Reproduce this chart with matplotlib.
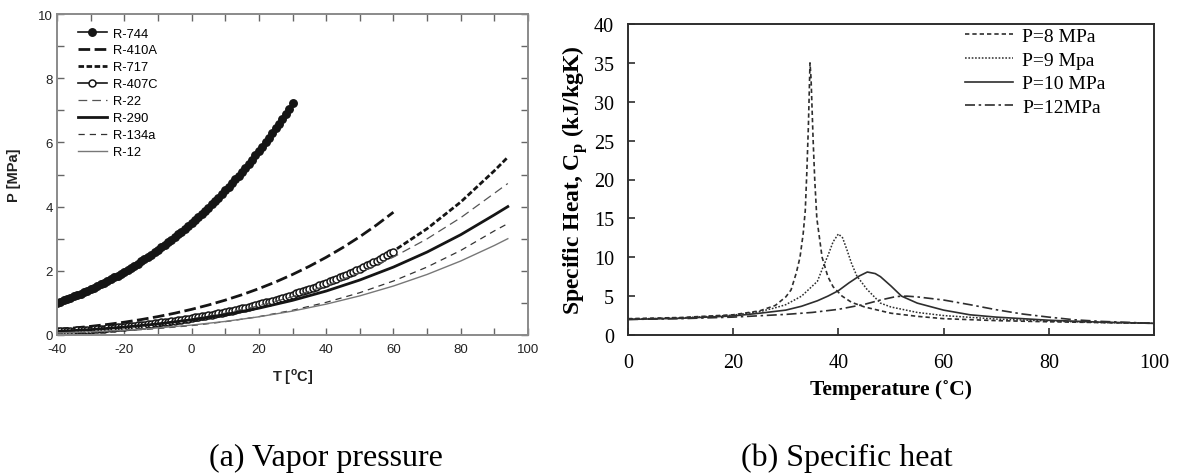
import matplotlib
matplotlib.use("Agg")
import matplotlib.pyplot as plt
from matplotlib.ticker import MultipleLocator

plt.rcParams["axes.unicode_minus"] = False

# ---- (a) vapor pressure, MPa --------------------------------------------
t_744 = list(range(-40, 31))
p_744 = [1.005, 1.043, 1.082, 1.121, 1.162, 1.203, 1.246, 1.290, 1.335, 1.381,
         1.428, 1.477, 1.526, 1.577, 1.629, 1.683, 1.737, 1.793, 1.851, 1.910,
         1.970, 2.031, 2.094, 2.158, 2.224, 2.291, 2.360, 2.430, 2.501, 2.574,
         2.649, 2.726, 2.804, 2.883, 2.964, 3.046, 3.131, 3.217, 3.305, 3.394,
         3.485, 3.578, 3.672, 3.769, 3.868, 3.969, 4.071, 4.176, 4.282, 4.391,
         4.502, 4.615, 4.730, 4.848, 4.966, 5.086, 5.211, 5.337, 5.465, 5.596,
         5.729, 5.865, 6.003, 6.144, 6.288, 6.434, 6.583, 6.735, 6.890, 7.048,
         7.214]

t_407c = list(range(-40, 61))
p_407c = [0.110, 0.115, 0.120, 0.125, 0.131, 0.137, 0.143, 0.149, 0.156, 0.163,
          0.170, 0.177, 0.185, 0.193, 0.201, 0.210, 0.219, 0.229, 0.239, 0.249,
          0.260, 0.270, 0.281, 0.291, 0.303, 0.314, 0.326, 0.339, 0.352, 0.366,
          0.380, 0.393, 0.406, 0.420, 0.434, 0.449, 0.464, 0.480, 0.496, 0.513,
          0.530, 0.546, 0.563, 0.581, 0.599, 0.617, 0.637, 0.656, 0.677, 0.698,
          0.720, 0.741, 0.763, 0.785, 0.808, 0.831, 0.856, 0.881, 0.906, 0.933,
          0.960, 0.986, 1.014, 1.042, 1.070, 1.100, 1.130, 1.161, 1.193, 1.226,
          1.260, 1.293, 1.327, 1.361, 1.397, 1.433, 1.471, 1.509, 1.548, 1.589,
          1.630, 1.669, 1.710, 1.751, 1.793, 1.837, 1.881, 1.927, 1.973, 2.021,
          2.070, 2.118, 2.167, 2.217, 2.268, 2.320, 2.374, 2.429, 2.485, 2.542,
          2.600]

t_410a = [-40, -35, -30, -25, -20, -15, -10, -5, 0, 5, 10, 15, 20, 25, 30,
          35, 40, 45, 50, 55, 60]
p_410a = [0.175, 0.218, 0.269, 0.329, 0.399, 0.480, 0.573, 0.679, 0.799, 0.934,
          1.086, 1.255, 1.444, 1.653, 1.885, 2.140, 2.420, 2.727, 3.062, 3.428,
          3.826]

t_hot = [-40, -30, -20, -10, 0, 10, 20, 30, 40, 50, 60, 70, 80, 90, 94]
p_717 = [0.072, 0.120, 0.190, 0.291, 0.429, 0.615, 0.858, 1.167, 1.555, 2.033,
         2.614, 3.312, 4.142, 5.117, 5.540]
p_22 = [0.105, 0.164, 0.245, 0.355, 0.498, 0.681, 0.910, 1.192, 1.534, 1.943,
        2.427, 2.995, 3.654, 4.415, 4.720]
p_290 = [0.111, 0.168, 0.245, 0.345, 0.474, 0.636, 0.836, 1.079, 1.369, 1.713,
         2.116, 2.584, 3.124, 3.744, 4.000]
p_134a = [0.051, 0.084, 0.133, 0.201, 0.293, 0.415, 0.572, 0.770, 1.017, 1.318,
          1.682, 2.117, 2.633, 3.244, 3.470]
p_12 = [0.064, 0.100, 0.151, 0.219, 0.309, 0.423, 0.567, 0.745, 0.961, 1.219,
        1.526, 1.886, 2.305, 2.789, 3.000]

# ---- (b) specific heat of CO2, kJ/kgK -----------------------------------
t_8 = [0, 10, 20, 25, 28, 30, 31, 32, 32.7, 33.3, 33.7, 34.0, 34.3, 34.6,
       34.8, 35.2, 35.5, 35.9, 36.9, 38, 39, 40.7, 42.5, 45, 50, 55, 60, 70,
       80, 90, 100]
cp_8 = [2.1, 2.25, 2.6, 3.1, 3.8, 4.9, 5.8, 8.0, 10.0, 13.0, 16.0, 21.0, 27.0,
        35.0, 33.0, 25.0, 20.0, 15.0, 10.0, 7.5, 6.2, 5.0, 4.2, 3.6, 2.8, 2.4,
        2.1, 1.85, 1.7, 1.6, 1.5]

t_9 = [0, 10, 20, 25, 28, 30, 33, 36, 37, 38, 39, 40, 40.8, 41.6, 42.5, 43.5,
       45.4, 48, 50, 55, 60, 70, 80, 90, 100]
cp_9 = [2.05, 2.2, 2.55, 3.0, 3.5, 3.9, 5.0, 6.9, 8.6, 10.2, 12.0, 13.0, 12.5,
        11.0, 9.2, 7.6, 5.9, 4.1, 3.6, 2.9, 2.5, 2.05, 1.8, 1.6, 1.5]

t_10 = [0, 10, 20, 25, 30, 33, 36, 38, 40, 42, 44, 45.5, 47, 48, 50, 52, 55,
        60, 65, 70, 80, 90, 100]
cp_10 = [2.0, 2.15, 2.45, 2.8, 3.2, 3.7, 4.4, 5.0, 5.7, 6.7, 7.6, 8.1, 7.9,
         7.5, 6.3, 5.0, 4.1, 3.2, 2.6, 2.3, 1.9, 1.65, 1.5]

t_12 = [0, 10, 20, 30, 35, 40, 45, 48, 51, 53, 55, 60, 65, 70, 75, 80, 85, 90,
        100]
cp_12 = [2.0, 2.1, 2.3, 2.65, 2.9, 3.3, 3.95, 4.5, 4.95, 5.0, 4.9, 4.5, 3.9,
         3.25, 2.7, 2.3, 1.95, 1.75, 1.5]

W, H = 1177, 477
fig = plt.figure(figsize=(W / 100, H / 100), dpi=100)

SANS = "Liberation Sans"
SERIF = "Liberation Serif"

# ── (a) ──────────────────────────────────────────────────────────────────────
ax1 = fig.add_axes([57 / W, 1 - 336 / H, (528 - 57) / W, (336 - 15) / H])
K = "#151515"
ax1.plot(t_744, p_744, "-", color=K, lw=1.2, marker="o", ms=5.4,
         mfc=K, mec=K, label="R-744")
ax1.plot(t_410a, p_410a, color=K, lw=2.0, dashes=(4.2, 1.6), label="R-410A")
ax1.plot(t_hot, p_717, color=K, lw=2.0, dashes=(2.0, 0.9), label="R-717")
ax1.plot(t_407c, p_407c, "-", color=K, lw=1.2, marker="o", ms=5.0,
         mfc="white", mec=K, mew=1.1, label="R-407C")
ax1.plot(t_hot, p_22, color="#555555", lw=0.9, dashes=(7, 4), label="R-22")
ax1.plot(t_hot, p_290, "-", color=K, lw=2.0, label="R-290")
ax1.plot(t_hot, p_134a, color="#333333", lw=0.9, dashes=(5, 4), label="R-134a")
ax1.plot(t_hot, p_12, "-", color="#777777", lw=1.0, label="R-12")

ax1.set_xlim(-40, 100)
ax1.set_ylim(0, 10)
ax1.xaxis.set_major_locator(MultipleLocator(20))
ax1.xaxis.set_minor_locator(MultipleLocator(10))
ax1.yaxis.set_major_locator(MultipleLocator(2))
ax1.yaxis.set_minor_locator(MultipleLocator(1))
ax1.tick_params(which="both", direction="in", top=True, right=True,
                color="#666666", width=1.0, length=5)
ax1.tick_params(axis="x", pad=6, labelsize=9.5, labelcolor="#222222")
ax1.tick_params(axis="y", pad=3, labelsize=9.5, labelcolor="#222222")
for lab in ax1.get_xticklabels() + ax1.get_yticklabels():
    lab.set_family(SANS)
for s in ax1.spines.values():
    s.set_color("#8a8a8a")
    s.set_linewidth(1.4)
ax1.set_ylabel("P [MPa]", family=SANS, fontsize=10.5, fontweight="bold",
               color="#222222", labelpad=12)
ax1.set_xlabel(r"T [$^{\mathregular{o}}$C]", family=SANS, fontsize=10.5,
               fontweight="bold", color="#222222", labelpad=8)
ax1.legend(loc="upper left", bbox_to_anchor=(0.045, 0.958), frameon=False,
           borderpad=0, borderaxespad=0, numpoints=1, handlelength=2.2,
           handletextpad=0.5, labelspacing=0.38,
           prop={"family": SANS, "size": 9.3})

# ── (b) ──────────────────────────────────────────────────────────────────────
ax2 = fig.add_axes([628 / W, 1 - 336 / H, (1154 - 628) / W, (336 - 25) / H])
G = "#2e2e2e"
ax2.plot(t_8, cp_8, color=G, lw=1.2, dashes=(2.6, 1.8), label="P=8 MPa")
ax2.plot(t_9, cp_9, color=G, lw=1.1, dashes=(1.1, 1.1), label="P=9 Mpa")
ax2.plot(t_10, cp_10, "-", color=G, lw=1.2, label="P=10 MPa")
ax2.plot(t_12, cp_12, color=G, lw=1.2, dashes=(6, 2.2, 1.5, 2.2),
         label="P=12MPa")

ax2.set_xlim(0, 100)
ax2.set_ylim(0, 40)
ax2.xaxis.set_major_locator(MultipleLocator(20))
ax2.yaxis.set_major_locator(MultipleLocator(5))
ax2.tick_params(direction="in", length=5, width=1.2, color=G, labelsize=14.5)
ax2.tick_params(axis="x", pad=13)
ax2.tick_params(axis="y", pad=10)
for lab in ax2.get_xticklabels() + ax2.get_yticklabels():
    lab.set_family(SERIF)
for s in ax2.spines.values():
    s.set_color(G)
    s.set_linewidth(1.4)
ax2.set_ylabel(r"Specific Heat, C$_{\mathregular{p}}$ (kJ/kgK)", family=SERIF,
               fontsize=17, fontweight="bold", labelpad=3)
ax2.set_xlabel("Temperature (\u02daC)", family=SERIF, fontsize=15.5,
               fontweight="bold", labelpad=5)
ax2.legend(loc="upper left", bbox_to_anchor=(0.64, 0.99), frameon=False,
           borderpad=0, borderaxespad=0, handlelength=2.5, handletextpad=0.45,
           labelspacing=0.32, prop={"family": SERIF, "size": 14})

# captions
fig.text(326 / W, 1 - 458 / H, "(a) Vapor pressure", family=SERIF,
         fontsize=23, ha="center", va="center")
fig.text(847 / W, 1 - 458 / H, "(b) Specific heat", family=SERIF,
         fontsize=23, ha="center", va="center")

fig.savefig("out.png", dpi=100)
